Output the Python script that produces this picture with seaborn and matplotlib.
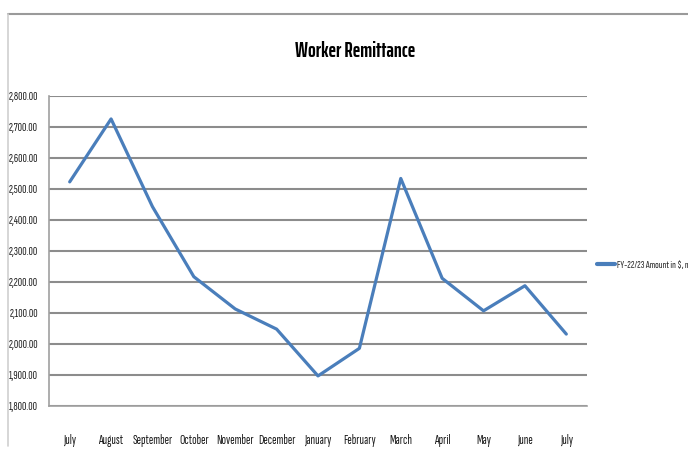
import matplotlib
matplotlib.use("Agg")
import matplotlib.pyplot as plt
import seaborn as sns
import pandas as pd
from matplotlib.lines import Line2D
from matplotlib.ticker import FixedLocator, FuncFormatter

months = ["July", "August", "September", "October", "November", "December",
          "January", "February", "March", "April", "May", "June", "July"]
amounts = [2523, 2726, 2443, 2217, 2113, 2048, 1897, 1986, 2534, 2212, 2107, 2188, 2032]
y_ticks = [1800, 1900, 2000, 2100, 2200, 2300, 2400, 2500, 2600, 2700, 2800]
series_name = "FY-22/23 Amount in $, million"
title = "Worker Remittance"

sns.set_style("white")
plt.rcParams['font.family'] = ['Sofia Sans Extra Condensed', 'DejaVu Sans']

df = pd.DataFrame({"pos": list(range(len(months))), "amount": amounts})

fig = plt.figure(figsize=(6.88, 4.49), dpi=100)
W, H = 688, 449
ax = fig.add_axes([49 / W, (H - 406) / H, (587 - 49) / W, (406 - 96) / H])

sns.lineplot(data=df, x="pos", y="amount", ax=ax, color="#4a7ebb", linewidth=2.3, legend=False)

ax.set_xlim(-0.5, len(months) - 0.5)
ax.set_ylim(1800, 2800)
ax.set_yticks(y_ticks)
ax.yaxis.set_major_formatter(FuncFormatter(lambda v, p: f"{v:,.2f}"))
ax.set_xticks(range(len(months)))
ax.set_xticklabels(months)
ax.xaxis.set_minor_locator(FixedLocator([i - 0.5 for i in range(len(months) + 1)]))
ax.tick_params(axis="x", which="major", length=0, pad=20, labelsize=9.6, labelcolor="#1a1a1a")
ax.tick_params(axis="x", which="minor", length=5, width=1, color="#a0a0a0", direction="out")
ax.tick_params(axis="y", which="major", length=5, width=1, color="#a0a0a0", direction="out",
               labelsize=8.6, labelcolor="#1a1a1a", pad=3)
ax.set_xlabel("")
ax.set_ylabel("")
ax.grid(axis="y", color="#8c8c8c", linewidth=1.5)
ax.set_axisbelow(True)
for s in ["top", "right"]:
    ax.spines[s].set_visible(False)
for s in ["left", "bottom"]:
    ax.spines[s].set_color("#a0a0a0")
    ax.spines[s].set_linewidth(1.2)

fig.text(355 / W, 1 - 51 / H, title, ha="center", va="center", fontsize=14.5,
         fontweight="bold", color="#000000",
         family=['Saira ExtraCondensed', 'DejaVu Sans'])

# chart border
fig.add_artist(Line2D([8 / W, 1.0], [1 - 14 / H, 1 - 14 / H], transform=fig.transFigure,
                      color="#9a9a9a", linewidth=1.5))
fig.add_artist(Line2D([8 / W, 8 / W], [1 - 14 / H, 1 - 446 / H], transform=fig.transFigure,
                      color="#d0d0d0", linewidth=1.2))

handle = Line2D([], [], color="#4a7ebb", linewidth=3)
fig.legend([handle], [series_name], loc="center left",
           bbox_to_anchor=(597 / W, 1 - 265 / H), frameon=False, fontsize=7.8,
           handlelength=1.7, handletextpad=0.15, borderaxespad=0, borderpad=0)

fig.savefig("out.png", dpi=100)
